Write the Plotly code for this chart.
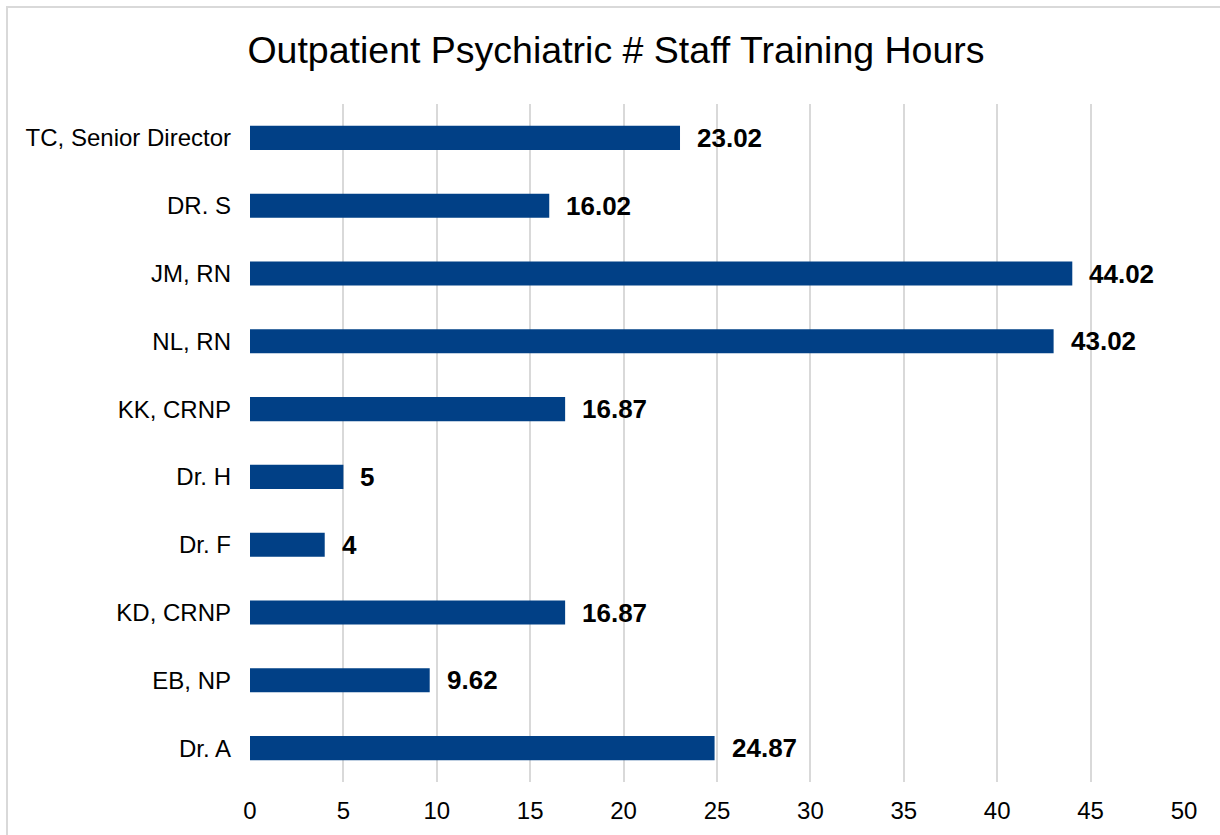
import plotly.graph_objects as go

# Staff listed bottom-to-top as they appear on the chart
staff = ["Dr. A", "EB, NP", "KD, CRNP", "Dr. F", "Dr. H", "KK, CRNP",
         "NL, RN", "JM, RN", "DR. S", "TC, Senior Director"]
hours = [24.87, 9.62, 16.87, 4, 5, 16.87, 43.02, 44.02, 16.02, 23.02]
x_ticks = [0, 5, 10, 15, 20, 25, 30, 35, 40, 45, 50]

W, H = 1220, 835
ML, MR, MT, MB = 250, 36, 104, 53
FONT = "Liberation Sans, Arial, sans-serif"

fig = go.Figure()
fig.add_trace(go.Bar(
    x=hours, y=staff, orientation="h",
    marker=dict(color="#014086", line=dict(width=0)),
    width=0.355, hoverinfo="x+y",
))

# value labels beside each bar
annotations = [
    dict(x=v, y=s, xref="x", yref="y", text=f"<b>{v:g}</b>",
         showarrow=False, xanchor="left", yanchor="middle", xshift=15,
         font=dict(family=FONT, size=26, color="#000000"))
    for s, v in zip(staff, hours)
]

# light outer frame around the chart area
pw, ph = W - ML - MR, H - MT - MB
frame = dict(type="rect", xref="paper", yref="paper",
             x0=(7 - ML) / pw, x1=(W + 5 - ML) / pw,
             y0=-(MB + 5) / ph, y1=1 + (MT - 7) / ph,
             line=dict(color="#d9d9d9", width=2), layer="below")

fig.update_layout(
    width=W, height=H,
    margin=dict(l=ML, r=MR, t=MT, b=MB, pad=0),
    paper_bgcolor="white", plot_bgcolor="white",
    title=dict(text="Outpatient Psychiatric # Staff Training Hours",
               x=616 / W, xref="container", xanchor="center",
               y=1 - 50 / H, yref="container", yanchor="middle",
               font=dict(family=FONT, size=37.5, color="#000000")),
    showlegend=False,
    annotations=annotations,
    shapes=[frame],
    bargap=0.645,
)
fig.update_xaxes(
    range=[0, 50], tickvals=x_ticks, showgrid=True,
    gridcolor="#d9d9d9", gridwidth=2, zeroline=False,
    showline=False, ticks="", ticklabelstandoff=12,
    tickfont=dict(family=FONT, size=24, color="#000000"),
)
fig.update_yaxes(
    categoryorder="array", categoryarray=staff,
    showgrid=False, zeroline=False, showline=False, ticks="",
    ticklabelstandoff=18,
    tickfont=dict(family=FONT, size=24, color="#000000"),
)

fig.write_html("out.html")
